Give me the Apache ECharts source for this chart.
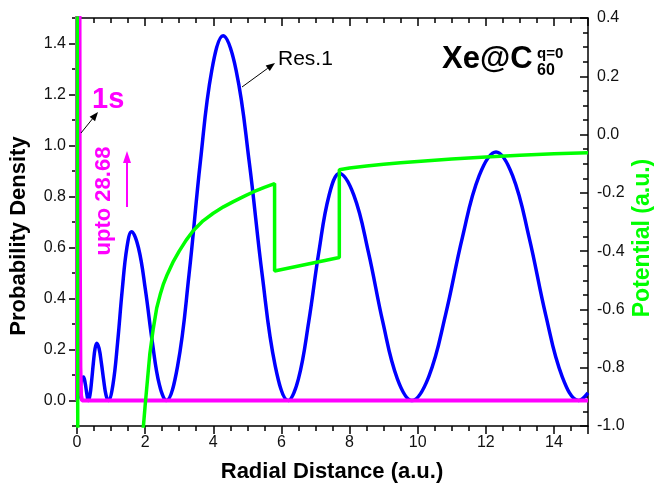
<!DOCTYPE html>
<html><head><meta charset="utf-8">
<script src="https://cdn.jsdelivr.net/npm/echarts@6/dist/echarts.min.js"></script>
<style>html,body{margin:0;padding:0;background:#fff}#c{width:657px;height:494px}</style>
</head><body><div id="c"></div>
<script>
// Res.1 probability density (left axis)
const res1Density = [
  [0,0],[0.05,0.02],[0.1,0.06],[0.15,0.088],[0.19,0.092],[0.24,0.068],[0.29,0.025],[0.33,0],
  [0.38,0.021],[0.43,0.078],[0.48,0.147],[0.53,0.204],[0.58,0.225],
  [0.648,0.204],[0.716,0.147],[0.784,0.078],[0.852,0.021],[0.92,0],
  [1.056,0.063],[1.192,0.228],[1.328,0.434],[1.464,0.599],[1.6,0.662],
  [1.804,0.599],[2.008,0.434],[2.212,0.228],[2.416,0.063],[2.62,0],
  [2.954,0.136],[3.288,0.493],[3.622,0.937],[3.956,1.294],[4.29,1.43],
  [4.672,1.294],[5.054,0.937],[5.436,0.493],[5.818,0.136],[6.2,0],
  [6.5,0.085],[6.8,0.307],[7.1,0.583],[7.4,0.805],[7.7,0.89],
  [8.126,0.805],[8.552,0.583],[8.978,0.307],[9.404,0.085],[9.83,0],
  [10.324,0.093],[10.818,0.336],[11.312,0.639],[11.806,0.882],[12.3,0.975],
  [12.786,0.882],[13.272,0.639],[13.758,0.336],[14.244,0.093],[14.73,0],[15,0.03]
];
// 1s probability density (left axis), peak value 28.68
const s1Density = [
  [0,0],[0.019,28.68],[0.06,3.5],[0.08,0.7],[0.1,0.13],[0.12,0.02],[0.15,0],[15,0]
];
// Potential (right axis)
const potential = [
  [0.005,0.6],[0.025,-1.3],[1.88,-1.1],[1.95,-1.0],[2.0,-0.93],[2.07,-0.84],[2.14,-0.75],
  [2.24,-0.665],[2.34,-0.595],[2.44,-0.55],[2.53,-0.515],[2.65,-0.48],[2.83,-0.435],
  [3.0,-0.4],[3.2,-0.363],[3.41,-0.33],[3.7,-0.296],[4.0,-0.27],[4.3,-0.248],[4.59,-0.23],
  [4.9,-0.212],[5.17,-0.197],[5.5,-0.181],[5.8,-0.168],[5.8,-0.468],[7.7,-0.422],
  [7.7,-0.121],[8.0,-0.115],[8.5,-0.108],[9,-0.102],[9.5,-0.097],[10,-0.092],[11,-0.084],
  [12,-0.077],[13,-0.071],[14,-0.066],[15,-0.062]
];
const leftTickValues = [0,0.2,0.4,0.6,0.8,1.0,1.2,1.4];

const FONT = '"Liberation Sans", Arial, sans-serif';
const BLACK = '#000';
const line = {color: BLACK, width: 1.5};

function arrow(x1, y1, x2, y2, color, w, hl, hw) {
  const dx = x2 - x1, dy = y2 - y1, L = Math.hypot(dx, dy), ux = dx / L, uy = dy / L;
  const bx = x2 - ux * hl, by = y2 - uy * hl;
  return [
    {type: 'line', shape: {x1: x1, y1: y1, x2: bx, y2: by}, style: {stroke: color, lineWidth: w}, z: 100},
    {type: 'polygon', shape: {points: [[x2, y2], [bx - uy * hw, by + ux * hw], [bx + uy * hw, by - ux * hw]]}, style: {fill: color}, z: 100}
  ];
}
function txt(x, y, text, font, fill, rot, align) {
  return {type: 'text', x: x, y: y, rotation: rot || 0, z: 100,
    style: {text: text, font: font, fill: fill, align: align || 'center', verticalAlign: 'middle',
      textAlign: align || 'center', textVerticalAlign: 'middle'}};
}

const xCommon = {
  type: 'value', min: 0, max: 15, interval: 2,
  axisLine: {show: true, onZero: false, lineStyle: line},
  axisTick: {show: true, length: 8, lineStyle: line},
  minorTick: {show: true, splitNumber: 4, length: 5, lineStyle: line},
  splitLine: {show: false}, minorSplitLine: {show: false}
};

const chart = echarts.init(document.getElementById('c'), null, {renderer: 'canvas'});
chart.setOption({
  animation: false,
  backgroundColor: '#fff',
  grid: {left: 77, right: 69, top: 18, bottom: 68, containLabel: false},
  xAxis: [
    Object.assign({}, xCommon, {position: 'bottom',
      axisLabel: {show: true, fontSize: 16, color: '#111', fontFamily: FONT, margin: 9, showMaxLabel: false}}),
    Object.assign({}, xCommon, {position: 'top',
      axisTick: {show: true, inside: true, length: 8, lineStyle: line},
      axisLabel: {show: false}})
  ],
  yAxis: [
    {type: 'value', position: 'left', min: -0.1, max: 1.5, interval: 0.1,
      axisLine: {show: true, onZero: false, lineStyle: line},
      axisTick: {show: true, length: 5, lineStyle: line},
      axisLabel: {show: false}, splitLine: {show: false}},
    {type: 'value', position: 'left', min: -0.1, max: 1.5,
      axisLine: {show: false, onZero: false},
      axisTick: {show: true, length: 8, lineStyle: line, customValues: leftTickValues},
      axisLabel: {show: true, customValues: leftTickValues, fontSize: 16, color: '#111', fontFamily: FONT, margin: 11,
        formatter: v => Number(v).toFixed(1)},
      splitLine: {show: false}},
    {type: 'value', position: 'right', min: -1.0, max: 0.4, interval: 0.2,
      axisLine: {show: true, onZero: false, lineStyle: line},
      axisTick: {show: true, inside: true, length: 8, lineStyle: line},
      minorTick: {show: true, splitNumber: 4, length: 5, lineStyle: line},
      axisLabel: {show: true, fontSize: 16, color: '#111', fontFamily: FONT, margin: 9,
        formatter: v => Number(v).toFixed(1)},
      splitLine: {show: false}, minorSplitLine: {show: false}}
  ],
  series: [
    {type: 'line', name: 'Res.1', xAxisIndex: 0, yAxisIndex: 0, data: res1Density, showSymbol: false,
      smooth: 0.4, lineStyle: {color: '#0000FF', width: 3.5}, itemStyle: {color: '#0000FF'}, z: 2},
    {type: 'line', name: '1s', xAxisIndex: 0, yAxisIndex: 0, data: s1Density, showSymbol: false,
      lineStyle: {color: '#FF00FF', width: 4}, itemStyle: {color: '#FF00FF'}, z: 3},
    {type: 'line', name: 'Potential', xAxisIndex: 0, yAxisIndex: 2, data: potential, showSymbol: false,
      lineStyle: {color: '#00FF00', width: 3.5}, itemStyle: {color: '#00FF00'}, z: 4}
  ],
  graphic: [
    txt(19, 236, 'Probability Density', 'bold 22px ' + FONT, BLACK, Math.PI / 2),
    txt(332, 472, 'Radial Distance (a.u.)', 'bold 22px ' + FONT, BLACK, 0),
    txt(643, 238, 'Potential (a.u.)', 'bold 23px ' + FONT, '#00FF00', Math.PI / 2),
    txt(442, 59, 'Xe@C', 'bold 31px ' + FONT, BLACK, 0, 'left'),
    txt(537, 54, 'q=0', 'bold 15px ' + FONT, BLACK, 0, 'left'),
    txt(537, 71, '60', 'bold 16px ' + FONT, BLACK, 0, 'left'),
    txt(278, 59, 'Res.1', '21px ' + FONT, BLACK, 0, 'left'),
    txt(92, 100, '1s', 'bold 29px ' + FONT, '#FF00FF', 0, 'left'),
    txt(103.5, 201, 'upto 28.68', 'bold 22px ' + FONT, '#FF00FF', Math.PI / 2)
  ].concat(
    arrow(242, 87, 275, 63, BLACK, 1, 9, 3.5),
    arrow(81, 133, 98, 112, BLACK, 1, 9, 3.5),
    arrow(127, 207, 127, 151, '#FF00FF', 2, 12, 4)
  )
});
</script></body></html>
